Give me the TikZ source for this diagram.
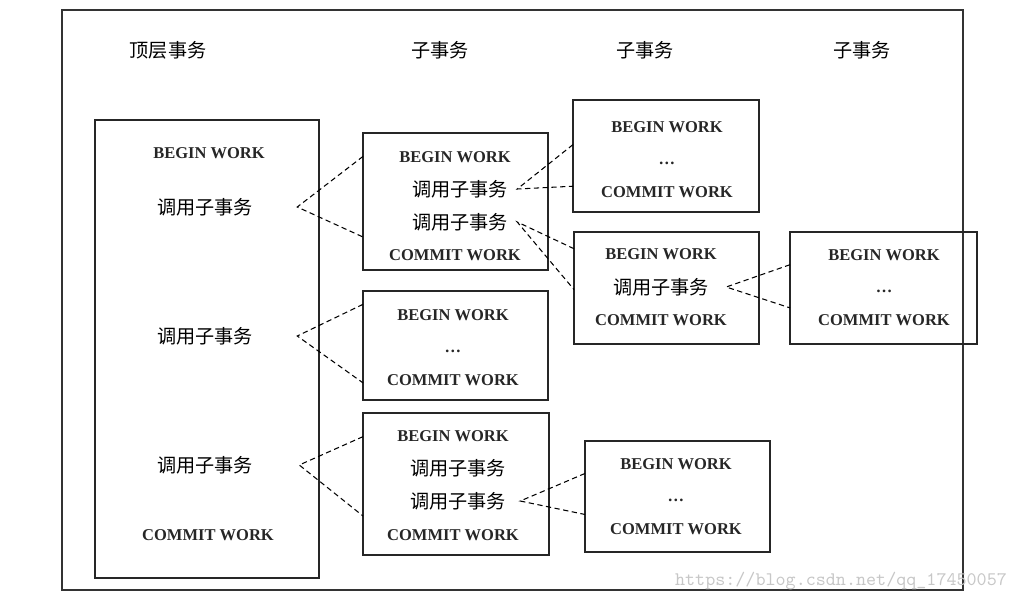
\documentclass[tikz,border=0pt]{standalone}
\usepackage{fontspec}
\setmainfont{Liberation Serif}
\newfontfamily\cjk{Noto Sans CJK SC}
\usepackage{tikz}
\usetikzlibrary{positioning}

\begin{document}
\begin{tikzpicture}[x=0.02cm,y=-0.02cm,line width=0.7pt]
\tikzstyle{box}=[draw=black!85,inner sep=0pt,outer sep=0pt]
\tikzstyle{en}=[inner sep=1pt,font=\bfseries\fontsize{9.4}{11}\selectfont,text=black!85]
\tikzstyle{zh}=[inner sep=1pt,font=\cjk\fontsize{10.9}{13}\selectfont]
\tikzstyle{call}=[dash pattern=on 3pt off 2pt,line width=0.6pt]
\useasboundingbox (0,0) rectangle (1018,602);
\draw[black!80] (62,10) rectangle (963,590);
% column heads
\node[zh] (h0) at (168,50) {顶层事务};
\node[zh] (h1) at (440,50) {子事务};
\node[zh] (h2) at (645,50) {子事务};
\node[zh] (h3) at (862,50) {子事务};
% top level
\node[box,minimum width=4.48cm,minimum height=9.16cm] (top) at (207,349) {};
\node[en] (top0) at (209,153) {BEGIN WORK};
\node[zh] (t1) at (205,207) {调用子事务};
\node[zh] (t2) at (205,336) {调用子事务};
\node[zh] (t3) at (205,465) {调用子事务};
\node[en] (top9) at (208,535) {COMMIT WORK};
% second level
\node[box,minimum width=3.70cm,minimum height=2.74cm] (A) at (455.5,201.5) {};
\node[en] (A0) at (455,157) {BEGIN WORK};
\node[zh] (a1) at (460,189) {调用子事务};
\node[zh] (a2) at (460,222) {调用子事务};
\node[en] (A9) at (455,255) {COMMIT WORK};
\node[box,minimum width=3.70cm,minimum height=2.18cm] (B) at (455.5,345.5) {};
\node[en] (B0) at (453,315) {BEGIN WORK};
\node[en] (B1) at (453,351) {\dots};
\node[en] (B9) at (453,380) {COMMIT WORK};
\node[box,minimum width=3.72cm,minimum height=2.84cm] (C) at (456,484) {};
\node[en] (C0) at (453,436) {BEGIN WORK};
\node[zh] (c1) at (458,468) {调用子事务};
\node[zh] (c2) at (458,501) {调用子事务};
\node[en] (C9) at (453,535) {COMMIT WORK};
% third level
\node[box,minimum width=3.72cm,minimum height=2.24cm] (D) at (666,156) {};
\node[en] (D0) at (667,127) {BEGIN WORK};
\node[en] (D1) at (667,163) {\dots};
\node[en] (D9) at (667,192) {COMMIT WORK};
\node[box,minimum width=3.70cm,minimum height=2.24cm] (E) at (666.5,288) {};
\node[en] (E0) at (661,254) {BEGIN WORK};
\node[zh] (e1) at (661,287) {调用子事务};
\node[en] (E9) at (661,320) {COMMIT WORK};
\node[box,minimum width=3.70cm,minimum height=2.22cm] (F) at (677.5,496.5) {};
\node[en] (F0) at (676,464) {BEGIN WORK};
\node[en] (F1) at (676,500) {\dots};
\node[en] (F9) at (676,529) {COMMIT WORK};
% fourth level
\node[box,minimum width=3.74cm,minimum height=2.24cm] (G) at (883.5,288) {};
\node[en] (G0) at (884,255) {BEGIN WORK};
\node[en] (G1) at (884,291) {\dots};
\node[en] (G9) at (884,320) {COMMIT WORK};
% calls
\draw[call] (A.154) -- ([xshift=0.84cm]t1.east) -- (A.201);
\draw[call] (B.156) -- ([xshift=0.84cm]t2.east) -- (B.202);
\draw[call] (C.153) -- ([xshift=0.88cm]t3.east) -- (C.199);
\draw[call] (D.173) -- ([xshift=0.14cm]a1.east) -- (D.198);
\draw[call] (E.157) -- ([xshift=0.14cm]a2.east) -- (E.181);
\draw[call] (G.166) -- ([xshift=0.3cm]e1.east) -- (G.192);
\draw[call] (F.166) -- ([xshift=0.24cm]c2.east) -- (F.191);
\node[text=black!22,font=\fontfamily{lmtt}\selectfont\fontsize{10.9}{12}\selectfont,inner sep=0pt] (mark) at (841,581) {https://blog.csdn.net/qq\_17450057};
\end{tikzpicture}
\end{document}
